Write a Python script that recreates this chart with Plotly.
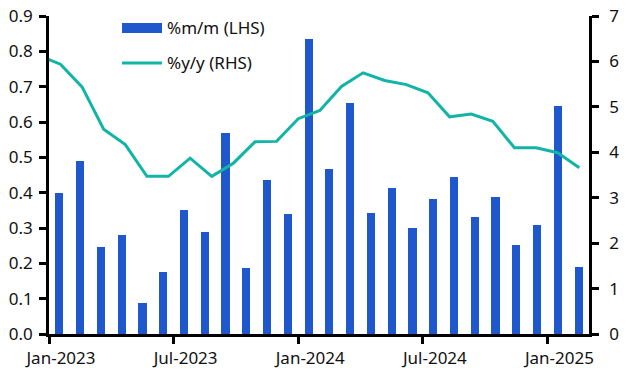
import plotly.graph_objects as go

months = ["Jan-2023","Feb-2023","Mar-2023","Apr-2023","May-2023","Jun-2023","Jul-2023","Aug-2023",
          "Sep-2023","Oct-2023","Nov-2023","Dec-2023","Jan-2024","Feb-2024","Mar-2024","Apr-2024",
          "May-2024","Jun-2024","Jul-2024","Aug-2024","Sep-2024","Oct-2024","Nov-2024","Dec-2024",
          "Jan-2025","Feb-2025"]
mm_values = [0.40, 0.49, 0.245, 0.28, 0.087, 0.175, 0.35, 0.29, 0.57, 0.186, 0.435, 0.339,
             0.834, 0.466, 0.653, 0.342, 0.412, 0.299, 0.381, 0.444, 0.330, 0.387, 0.251,
             0.308, 0.644, 0.189]
yy_values = [6.13, 5.94, 5.44, 4.51, 4.17, 3.47, 3.47, 3.87, 3.47, 3.76, 4.23, 4.24, 4.74,
             4.92, 5.45, 5.75, 5.58, 5.49, 5.31, 4.78, 4.84, 4.68, 4.10, 4.10, 3.99, 3.66]
tick_labels = ["Jan-2023", "Jul-2023", "Jan-2024", "Jul-2024", "Jan-2025"]
tick_index = [0, 6, 12, 18, 24]

BAR = "#1F58CD"
LINE = "#12B5A5"
FONT = "Noto Sans"
FS = 17

bar_x = list(range(len(months)))
line_x = list(range(len(yy_values)))

fig = go.Figure()
fig.add_trace(go.Bar(x=bar_x, y=mm_values, marker=dict(color=BAR, line=dict(width=0)),
                     width=0.39, name="%m/m (LHS)", showlegend=False, xaxis="x", yaxis="y"))
fig.add_trace(go.Scatter(x=line_x, y=yy_values, mode="lines", line=dict(color=LINE, width=3),
                         name="%y/y (RHS)", showlegend=False, xaxis="x2", yaxis="y2"))

axis_common = dict(showgrid=False, zeroline=False, showline=True, linecolor="black", linewidth=2.5,
                   ticks="outside", ticklen=7, tickwidth=2.5, tickcolor="black", automargin=False,
                   ticklabeloverflow="allow",
                   tickfont=dict(family=FONT, size=FS, color="#111111"))

fig.update_layout(
    template="none",
    width=634, height=386,
    margin=dict(l=49, r=45, t=16, b=52, autoexpand=False),
    paper_bgcolor="white", plot_bgcolor="white",
    bargap=0,
    xaxis=dict(range=[-0.5, len(months) - 0.5], tickmode="array",
               tickvals=[i - 0.5 for i in tick_index], ticktext=tick_labels,
               ticklabelshift=12, **axis_common),
    xaxis2=dict(overlaying="x", range=[0.472, 25.449], visible=False),
    yaxis=dict(range=[0, 0.9], dtick=0.1, tickformat=".1f", ticklabelstandoff=3, **axis_common),
    yaxis2=dict(range=[0, 7], dtick=1, overlaying="y", side="right", anchor="x",
                ticklabelstandoff=7, **axis_common),
)

# legend drawn manually (positions in page pixels of the reference)
px0, px1, py0, py1 = 49.0, 589.0, 334.0, 16.0
def xp(p): return (p - px0) / (px1 - px0)
def yp(p): return (py0 - p) / (py0 - py1)

fig.add_shape(type="rect", xref="paper", yref="paper", x0=xp(122), x1=xp(162), y0=yp(33), y1=yp(23),
              fillcolor=BAR, line=dict(width=0))
fig.add_shape(type="line", xref="paper", yref="paper", x0=xp(122), x1=xp(162), y0=yp(63), y1=yp(63),
              line=dict(color=LINE, width=3))
fig.add_annotation(xref="paper", yref="paper", x=xp(165), y=yp(28), text="%m/m (LHS)", showarrow=False,
                   xanchor="left", yanchor="middle", font=dict(family=FONT, size=FS, color="#111111"))
fig.add_annotation(xref="paper", yref="paper", x=xp(165), y=yp(63), text="%y/y (RHS)", showarrow=False,
                   xanchor="left", yanchor="middle", font=dict(family=FONT, size=FS, color="#111111"))

fig.write_html("out.html", config={"displayModeBar": False},
               post_script="document.body.style.margin='0px';")
